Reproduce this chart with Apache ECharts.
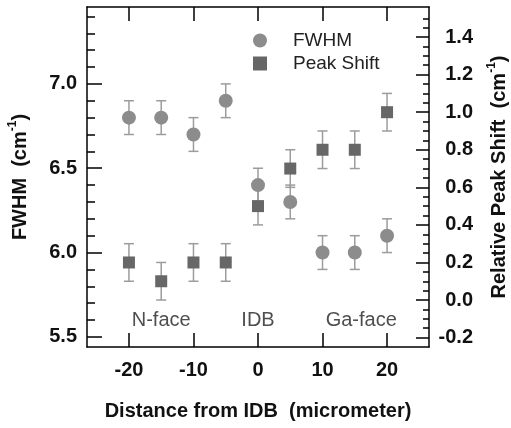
<!DOCTYPE html>
<html>
<head>
<meta charset="utf-8">
<script src="https://cdn.jsdelivr.net/npm/echarts@6/dist/echarts.min.js"></script>
<style>
html, body { margin: 0; padding: 0; background: #fff; }
#chart { width: 511px; height: 428px; }
</style>
</head>
<body>
<div id="chart"></div>
<script>
// data
var distance = [-20, -15, -10, -5, 0, 5, 10, 15, 20];
var fwhm = [6.8, 6.8, 6.7, 6.9, 6.4, 6.3, 6.0, 6.0, 6.1];
var fwhmErr = [0.1, 0.1, 0.1, 0.1, 0.1, 0.1, 0.1, 0.1, 0.1];
var peakShift = [0.2, 0.1, 0.2, 0.2, 0.5, 0.7, 0.8, 0.8, 1.0];
var peakErr = [0.1, 0.1, 0.1, 0.1, 0.1, 0.1, 0.1, 0.1, 0.1];

// ticks
var xTicks = [-20, -10, 0, 10, 20];
var fwhmTicks = [5.5, 6.0, 6.5, 7.0];
var fwhmMinorTicks = [5.5, 5.6, 5.7, 5.8, 5.9, 6.0, 6.1, 6.2, 6.3, 6.4, 6.5, 6.6, 6.7, 6.8, 6.9, 7.0, 7.1, 7.2, 7.3, 7.4];
var shiftTicks = [-0.2, 0.0, 0.2, 0.4, 0.6, 0.8, 1.0, 1.2, 1.4];
var shiftMinorTicks = [-0.2, -0.15, -0.1, -0.05, 0, 0.05, 0.1, 0.15, 0.2, 0.25, 0.3, 0.35, 0.4, 0.45,
	0.5, 0.55, 0.6, 0.65, 0.7, 0.75, 0.8, 0.85, 0.9, 0.95, 1.0, 1.05, 1.1, 1.15, 1.2, 1.25, 1.3, 1.35, 1.4, 1.45, 1.5];

// region annotations
var regionNames = ['N-face', 'IDB', 'Ga-face'];
var regionX = [-15, 0, 16];
var regionY = [5.6, 5.6, 5.6];

var FONT = 'Liberation Sans, Arial, sans-serif';
var circleColor = '#8c8c8c';
var squareColor = '#676767';
var barColor = '#9c9c9c';

function errorBar(params, api) {
	var x = api.value(0), y = api.value(1), e = api.value(2);
	var top = api.coord([x, y + e]);
	var bot = api.coord([x, y - e]);
	var hw = 5;
	var st = { stroke: barColor, lineWidth: 1.5 };
	return {
		type: 'group',
		children: [
			{ type: 'line', shape: { x1: top[0], y1: top[1], x2: bot[0], y2: bot[1] }, style: st },
			{ type: 'line', shape: { x1: top[0] - hw, y1: top[1], x2: top[0] + hw, y2: top[1] }, style: st },
			{ type: 'line', shape: { x1: bot[0] - hw, y1: bot[1], x2: bot[0] + hw, y2: bot[1] }, style: st }
		]
	};
}

function zip(ys, es) {
	return distance.map(function (d, i) {
		return es ? [d, ys[i], es[i]] : [d, ys[i]];
	});
}

var lineStyle = { color: '#000', width: 1.5 };
var tickLabel = { color: '#111', fontFamily: FONT, fontWeight: 'bold', fontSize: 20 };
var nameRich = {
	a: { fontFamily: FONT, fontWeight: 'bold', fontSize: 20, color: '#111', lineHeight: 26 },
	sup: { fontFamily: FONT, fontWeight: 'bold', fontSize: 12, color: '#111', lineHeight: 26, verticalAlign: 'top' }
};

var chart = echarts.init(document.getElementById('chart'));
var option = {
	animation: false,
	backgroundColor: '#fff',
	grid: { left: 87, top: 7, right: 82, bottom: 81, outerBoundsMode: 'none', containLabel: false },
	legend: {
		orient: 'vertical',
		left: 248,
		top: 26,
		itemWidth: 14,
		itemHeight: 14,
		itemGap: 4,
		textStyle: { fontFamily: FONT, fontSize: 19, color: '#222', padding: [0, 0, 0, 21] },
		data: [
			{ name: 'FWHM', icon: 'circle', itemStyle: { color: circleColor } },
			{ name: 'Peak Shift', icon: 'rect', itemStyle: { color: squareColor } }
		]
	},
	xAxis: [{
		type: 'value', position: 'bottom', min: -26.5, max: 26.5,
		name: 'Distance from IDB  (micrometer)', nameLocation: 'middle', nameGap: 54,
		nameTextStyle: { fontFamily: FONT, fontWeight: 'bold', fontSize: 20, color: '#111' },
		axisLine: { show: true, onZero: false, lineStyle: lineStyle },
		axisTick: { show: true, inside: true, length: 14, lineStyle: lineStyle, customValues: xTicks },
		axisLabel: Object.assign({ margin: 13, customValues: xTicks }, tickLabel),
		splitLine: { show: false }
	}, {
		type: 'value', position: 'top', min: -26.5, max: 26.5,
		axisLine: { show: true, onZero: false, lineStyle: lineStyle },
		axisTick: { show: true, inside: true, length: 14, lineStyle: lineStyle, customValues: xTicks },
		axisLabel: { show: false },
		splitLine: { show: false }
	}],
	yAxis: [{
		type: 'value', position: 'left', min: 5.44, max: 7.456,
		name: '{a|FWHM  (cm}{sup|-1}{a|)}', nameLocation: 'middle', nameGap: 54, nameRotate: 90,
		nameTextStyle: { rich: nameRich },
		axisLine: { show: true, onZero: false, lineStyle: lineStyle },
		axisTick: { show: true, inside: true, length: 15, lineStyle: lineStyle, customValues: fwhmTicks },
		axisLabel: Object.assign({ margin: 10, customValues: fwhmTicks, formatter: function (v) { return v.toFixed(1); } }, tickLabel),
		splitLine: { show: false }
	}, {
		type: 'value', position: 'left', min: 5.44, max: 7.456,
		axisLine: { show: false, onZero: false },
		axisTick: { show: true, inside: true, length: 8, lineStyle: lineStyle, customValues: fwhmMinorTicks },
		axisLabel: { show: false },
		splitLine: { show: false }
	}, {
		type: 'value', position: 'right', min: -0.25, max: 1.56,
		name: '{a|Relative Peak Shift  (cm}{sup|-1}{a|)}', nameLocation: 'middle', nameGap: 57, nameRotate: 90,
		nameTextStyle: { rich: nameRich },
		axisLine: { show: true, onZero: false, lineStyle: lineStyle },
		axisTick: { show: true, inside: true, length: 13, lineStyle: lineStyle, customValues: shiftTicks },
		axisLabel: Object.assign({ margin: 44, align: 'right', customValues: shiftTicks, formatter: function (v) { return v.toFixed(1); } }, tickLabel),
		splitLine: { show: false }
	}, {
		type: 'value', position: 'right', min: -0.25, max: 1.56,
		axisLine: { show: false, onZero: false },
		axisTick: { show: true, inside: true, length: 6, lineStyle: lineStyle, customValues: shiftMinorTicks },
		axisLabel: { show: false },
		splitLine: { show: false }
	}],
	series: [{
		type: 'custom', name: 'FWHM err', xAxisIndex: 0, yAxisIndex: 0,
		renderItem: errorBar, data: zip(fwhm, fwhmErr), z: 1, silent: true
	}, {
		type: 'custom', name: 'Peak err', xAxisIndex: 0, yAxisIndex: 2,
		renderItem: errorBar, data: zip(peakShift, peakErr), z: 1, silent: true
	}, {
		type: 'scatter', name: 'FWHM', xAxisIndex: 0, yAxisIndex: 0,
		symbol: 'circle', symbolSize: 14, itemStyle: { color: circleColor, opacity: 1 },
		data: zip(fwhm), z: 3
	}, {
		type: 'scatter', name: 'Peak Shift', xAxisIndex: 0, yAxisIndex: 2,
		symbol: 'rect', symbolSize: 12, itemStyle: { color: squareColor, opacity: 1 },
		data: zip(peakShift), z: 3
	}, {
		type: 'scatter', name: 'regions', xAxisIndex: 0, yAxisIndex: 0,
		symbolSize: 0, silent: true,
		label: {
			show: true, position: 'inside', formatter: '{b}',
			fontFamily: FONT, fontSize: 20, color: '#222'
		},
		data: regionNames.map(function (n, i) { return { name: n, value: [regionX[i], regionY[i]] }; })
	}]
};
chart.setOption(option);
</script>
</body>
</html>
